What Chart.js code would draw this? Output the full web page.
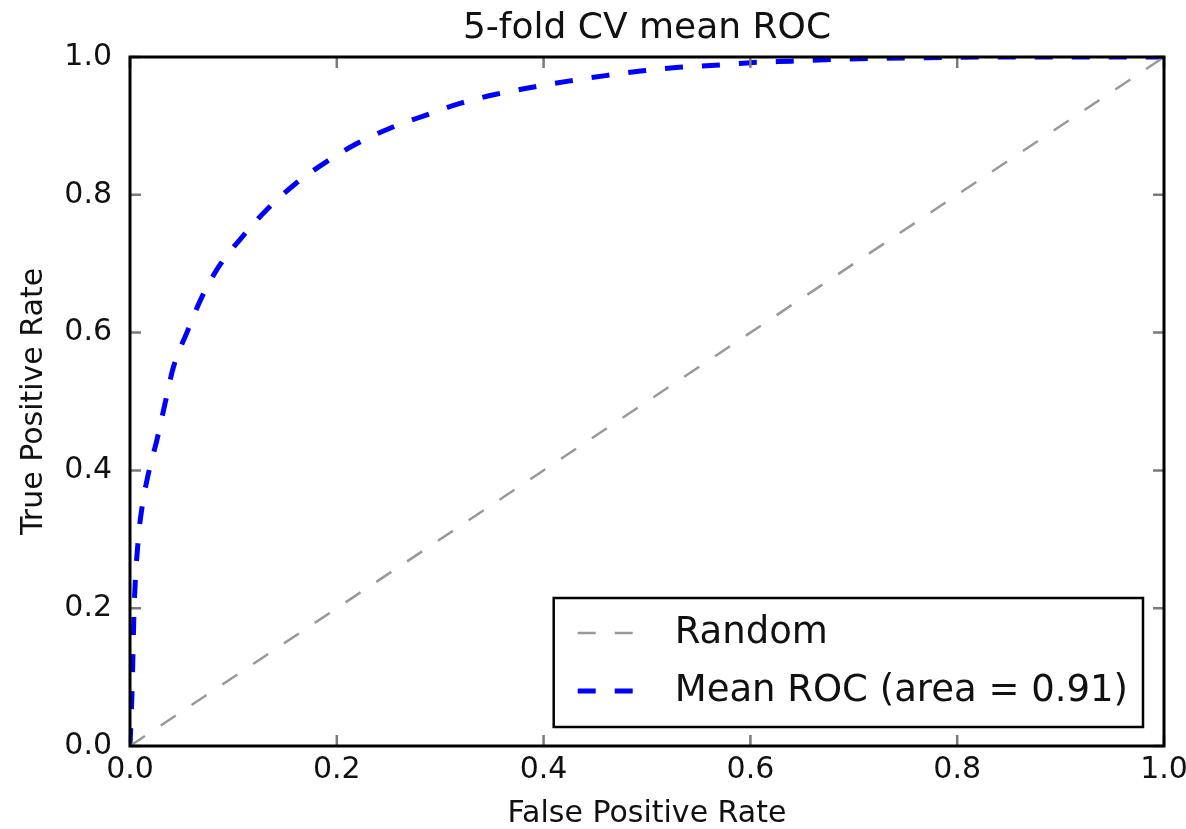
<!DOCTYPE html>
<html>
<head>
<meta charset="utf-8">
<script src="https://cdn.jsdelivr.net/npm/chart.js@4/dist/chart.umd.min.js"></script>
<style>
  body { margin: 0; background: #fff; }
  canvas { display: block; }
</style>
</head>
<body>
<canvas id="roc" width="1186" height="829"></canvas>
<script>
// values
const chartTitle = '5-fold CV mean ROC';
const xLabel = 'False Positive Rate';
const yLabel = 'True Positive Rate';
const tickValues = [0, 0.2, 0.4, 0.6, 0.8, 1.0];
const tickLabels = ['0.0', '0.2', '0.4', '0.6', '0.8', '1.0'];

const randomFpr = [0, 1];
const randomTpr = [0, 1];

const meanFpr = [0, 0.002, 0.004, 0.008, 0.012, 0.017, 0.021, 0.026, 0.034, 0.042, 0.055, 0.069, 0.086, 0.108, 0.132, 0.16, 0.188, 0.219, 0.252, 0.285, 0.32, 0.354, 0.389, 0.424, 0.46, 0.496, 0.531, 0.566, 0.603, 0.64, 0.672, 0.72, 0.77, 0.82, 0.9, 1.0];
const meanTpr = [0, 0.08, 0.2, 0.3, 0.35, 0.39, 0.415, 0.444, 0.498, 0.55, 0.60, 0.650, 0.696, 0.738, 0.778, 0.816, 0.846, 0.874, 0.897, 0.915, 0.933, 0.946, 0.956, 0.965, 0.973, 0.980, 0.985, 0.988, 0.992, 0.994, 0.996, 0.998, 0.999, 1.0, 1.0, 1.0];

const toPoints = (xs, ys) => xs.map((x, i) => ({x: x, y: ys[i]}));

const FONT = '"DejaVu Sans", "Liberation Sans", sans-serif';

// title, inward ticks on all four sides, frame and legend box (matplotlib classic look)
const mplFrame = {
    id: 'mplFrame',
    afterDatasetsDraw(chart) {
        const ctx = chart.ctx, area = chart.chartArea;
        const xs = chart.scales.x, ys = chart.scales.y;
        ctx.save();

        // ticks
        ctx.strokeStyle = '#7a7a7a';
        ctx.lineWidth = 2.5;
        const tl = 11;
        tickValues.forEach(v => {
            const px = xs.getPixelForValue(v), py = ys.getPixelForValue(v);
            ctx.beginPath();
            ctx.moveTo(px, area.bottom); ctx.lineTo(px, area.bottom - tl);
            ctx.moveTo(px, area.top); ctx.lineTo(px, area.top + tl);
            ctx.moveTo(area.left, py); ctx.lineTo(area.left + tl, py);
            ctx.moveTo(area.right, py); ctx.lineTo(area.right - tl, py);
            ctx.stroke();
        });

        // frame
        ctx.strokeStyle = '#000';
        ctx.lineWidth = 3;
        ctx.strokeRect(area.left, area.top, area.right - area.left, area.bottom - area.top);

        // title
        ctx.fillStyle = '#111';
        ctx.font = '36px ' + FONT;
        ctx.textAlign = 'center';
        ctx.textBaseline = 'middle';
        ctx.fillText(chartTitle, (area.left + area.right) / 2, 29);

        // legend
        ctx.font = '37px ' + FONT;
        const sets = chart.data.datasets;
        const textW = Math.max(...sets.map(d => ctx.measureText(d.label).width));
        const padL = 24, sampleW = 65, gap = 32, padR = 15, rowH = 58;
        const boxW = padL + sampleW + gap + textW + padR;
        const boxH = 129;
        const bx = area.right - 21 - boxW, by = area.bottom - 19 - boxH;
        ctx.fillStyle = '#fff';
        ctx.fillRect(bx, by, boxW, boxH);
        ctx.strokeStyle = '#000';
        ctx.lineWidth = 2.5;
        ctx.strokeRect(bx, by, boxW, boxH);
        sets.forEach((d, i) => {
            const cy = by + 35 + i * rowH;
            ctx.save();
            ctx.strokeStyle = d.borderColor;
            ctx.lineWidth = d.borderWidth;
            ctx.setLineDash(d.borderDash);
            ctx.beginPath();
            ctx.moveTo(bx + padL, cy);
            ctx.lineTo(bx + padL + sampleW, cy);
            ctx.stroke();
            ctx.restore();
            ctx.fillStyle = '#111';
            ctx.textAlign = 'left';
            ctx.textBaseline = 'middle';
            ctx.fillText(d.label, bx + padL + sampleW + gap, cy);
        });
        ctx.restore();
    }
};

const axisCommon = {
    type: 'linear',
    min: 0,
    max: 1,
    grid: { display: false, drawTicks: false },
    border: { display: false },
    afterBuildTicks: scale => { scale.ticks = tickValues.map(v => ({value: v})); },
    ticks: {
        color: '#111',
        font: { family: FONT, size: 30 },
        callback: (v, i) => tickLabels[i]
    }
};

new Chart(document.getElementById('roc'), {
    type: 'scatter',
    data: {
        datasets: [{
            label: 'Random',
            data: toPoints(randomFpr, randomTpr),
            showLine: true,
            borderColor: '#999999',
            borderWidth: 2.5,
            borderDash: [18, 19],
            pointRadius: 0
        }, {
            label: 'Mean ROC (area = 0.91)',
            data: toPoints(meanFpr, meanTpr),
            showLine: true,
            borderColor: '#0000ff',
            borderWidth: 5,
            borderDash: [18, 19],
            cubicInterpolationMode: 'monotone',
            pointRadius: 0
        }]
    },
    options: {
        responsive: false,
        animation: false,
        layout: { padding: { top: 57, right: 22, left: 0, bottom: 0 } },
        plugins: {
            legend: { display: false },
            tooltip: { enabled: false }
        },
        scales: {
            x: Object.assign({}, axisCommon, {
                position: 'bottom',
                ticks: Object.assign({}, axisCommon.ticks, { padding: 6, maxRotation: 0 }),
                title: { display: true, text: xLabel, color: '#111', font: { family: FONT, size: 30, lineHeight: 1 }, padding: { top: 0, bottom: 0 } },
                afterFit: scale => { scale.height = 83; scale.paddingLeft = 0; scale.paddingRight = 0; }
            }),
            y: Object.assign({}, axisCommon, {
                position: 'left',
                ticks: Object.assign({}, axisCommon.ticks, { padding: 18 }),
                title: { display: true, text: yLabel, color: '#111', font: { family: FONT, size: 30 }, padding: { top: 16, bottom: 0 } },
                afterFit: scale => { scale.width = 130; }
            })
        }
    },
    plugins: [mplFrame]
});
</script>
</body>
</html>
